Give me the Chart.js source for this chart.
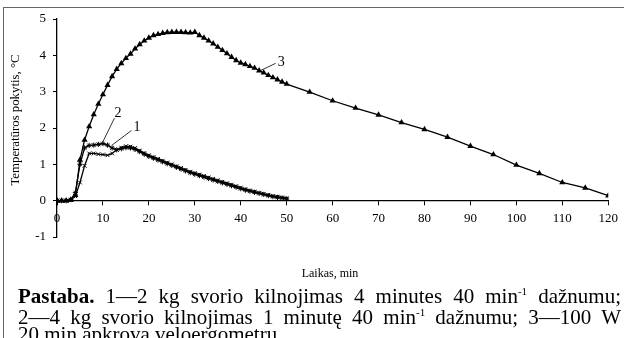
<!DOCTYPE html>
<html>
<head>
<meta charset="utf-8">
<script src="https://cdn.jsdelivr.net/npm/chart.js@4.4.1/dist/chart.umd.min.js"></script>
<style>
  html, body { margin: 0; padding: 0; background: #fff; }
  #wrap { position: relative; width: 624px; height: 338px; overflow: hidden; }
  #chart { position: absolute; left: 0; top: 0; }
  #frameTop { position: absolute; left: 3px; top: 7px; width: 621px; height: 0; border-top: 1px solid #666; }
  #frameLeft { position: absolute; left: 3px; top: 7px; width: 0; height: 331px; border-left: 1px solid #666; }
  #note {
    position: absolute; left: 18px; top: 286px; width: 603px;
    font-family: "Liberation Serif", "DejaVu Serif", serif; font-size: 21px; line-height: 20.5px; color: #000;
  }
  #note div { white-space: nowrap; }
  #note .j { text-align: justify; text-align-last: justify; white-space: normal; }
  #note .last { margin-top: -3px; }
  #note sup { font-size: 11px; line-height: 0; vertical-align: 8px; }
</style>
</head>
<body>
<div id="wrap">
  <canvas id="chart" width="624" height="338"></canvas>
  <div id="frameTop"></div>
  <div id="frameLeft"></div>
  <div id="note">
    <div class="j"><b>Pastaba.</b> 1—2 kg svorio kilnojimas 4 minutes 40 min<sup>-1</sup> dažnumu;</div>
    <div class="j">2—4 kg svorio kilnojimas 1 minutę 40 min<sup>-1</sup> dažnumu; 3—100 W</div>
    <div class="last">20 min apkrova veloergometru.</div>
  </div>
</div>
<script>
// time, min
const minutes1 = [0, 1, 2, 3, 4, 5, 6, 7, 8, 9, 10, 11, 12, 13, 14, 15, 16, 17, 18, 19, 20,
  21, 22, 23, 24, 25, 26, 27, 28, 29, 30, 31, 32, 33, 34, 35, 36, 37, 38, 39, 40,
  41, 42, 43, 44, 45, 46, 47, 48, 49, 50];
const minutes3 = [0, 1, 2, 3, 4, 5, 6, 7, 8, 9, 10, 11, 12, 13, 14, 15, 16, 17, 18, 19, 20,
  21, 22, 23, 24, 25, 26, 27, 28, 29, 30, 31, 32, 33, 34, 35, 36, 37, 38, 39, 40,
  41, 42, 43, 44, 45, 46, 47, 48, 49, 50, 55, 60, 65, 70, 75, 80, 85, 90, 95, 100,
  105, 110, 115, 120];

// temperature change, degC
const temp1 = [0, 0, 0, 0.02, 0.12, 0.5, 0.96, 1.3, 1.3, 1.28, 1.27, 1.25, 1.3, 1.4, 1.46, 1.5, 1.49,
  1.45, 1.38, 1.31, 1.25, 1.2, 1.15, 1.1, 1.05, 1.0, 0.95, 0.9, 0.85, 0.8, 0.76,
  0.72, 0.68, 0.64, 0.6, 0.56, 0.52, 0.48, 0.44, 0.4, 0.36, 0.32, 0.28, 0.25, 0.22,
  0.19, 0.16, 0.13, 0.11, 0.09, 0.07];
const temp2 = [0, 0, 0, 0.03, 0.22, 1.0, 1.45, 1.52, 1.53, 1.55, 1.57, 1.53, 1.45, 1.4, 1.43, 1.46, 1.45,
  1.41, 1.35, 1.28, 1.22, 1.17, 1.12, 1.07, 1.02, 0.97, 0.92, 0.87, 0.82, 0.77, 0.73,
  0.69, 0.65, 0.61, 0.57, 0.53, 0.49, 0.45, 0.41, 0.37, 0.33, 0.29, 0.26, 0.23, 0.2,
  0.17, 0.14, 0.11, 0.09, 0.07, 0.05];
const temp3 = [0, 0, 0, 0.02, 0.15, 1.12, 1.67, 2.04, 2.37, 2.66, 2.92, 3.18, 3.42, 3.62, 3.78, 3.92,
  4.04, 4.18, 4.3, 4.4, 4.48, 4.55, 4.58, 4.61, 4.63, 4.64, 4.64, 4.64, 4.63, 4.62, 4.64,
  4.55, 4.48, 4.4, 4.32, 4.23, 4.14, 4.05, 3.95, 3.86, 3.79, 3.75, 3.7, 3.65, 3.58,
  3.52, 3.45, 3.39, 3.33, 3.27, 3.21, 2.99, 2.75, 2.55, 2.36, 2.15, 1.96, 1.75, 1.5,
  1.27, 0.98, 0.75, 0.5, 0.35, 0.14];

const xTicks = [0, 10, 20, 30, 40, 50, 60, 70, 80, 90, 100, 110, 120];
const yTicks = [-1, 0, 1, 2, 3, 4, 5];

// curve labels: [text, label x, label y, line from x, y, line to x, y] in data units
const curveLabels = [
  ["1", 17.4, 2.02, 16.2, 1.93, 11.9, 1.52],
  ["2", 13.3, 2.4, 12.5, 2.27, 9.9, 1.6],
  ["3", 48.8, 3.8, 47.6, 3.78, 44.3, 3.58],
];

const serif = "'Liberation Serif', 'DejaVu Serif', serif";

const toPoints = (xs, ys) => xs.map((x, i) => ({ x: x, y: ys[i] }));

const extrasPlugin = {
  id: "extras",
  afterDraw(chart) {
    const ctx = chart.ctx;
    const xs = chart.scales.x;
    const ys = chart.scales.y;
    ctx.save();
    ctx.fillStyle = "#000";
    ctx.strokeStyle = "#000";
    ctx.lineWidth = 0.8;
    ctx.font = "14px " + serif;
    ctx.textAlign = "center";
    ctx.textBaseline = "middle";
    curveLabels.forEach(([t, lx, ly, x1, y1, x2, y2]) => {
      ctx.fillText(t, xs.getPixelForValue(lx), ys.getPixelForValue(ly));
      ctx.beginPath();
      ctx.moveTo(xs.getPixelForValue(x1), ys.getPixelForValue(y1));
      ctx.lineTo(xs.getPixelForValue(x2), ys.getPixelForValue(y2));
      ctx.stroke();
    });

    // axis titles
    ctx.font = "12px " + serif;
    ctx.fillText("Laikas, min", 330, 274);
    ctx.font = "12.8px " + serif;
    ctx.translate(16, 120);
    ctx.rotate(-Math.PI / 2);
    ctx.fillText("Temperatūros pokytis, °C", 0, 0);
    ctx.restore();
  },
};

const canvas = document.getElementById("chart");
new Chart(canvas.getContext("2d"), {
  type: "line",
  data: {
    datasets: [
      {
        label: "1",
        data: toPoints(minutes1, temp1),
        borderColor: "#000",
        backgroundColor: "#000",
        borderWidth: 1.3,
        pointStyle: "crossRot",
        pointRadius: 2.6,
        pointBorderWidth: 1,
        tension: 0,
      },
      {
        label: "2",
        data: toPoints(minutes1, temp2),
        borderColor: "#000",
        backgroundColor: "#000",
        borderWidth: 1.3,
        pointStyle: "star",
        pointRadius: 2.6,
        pointBorderWidth: 1,
        tension: 0,
      },
      {
        label: "3",
        data: toPoints(minutes3, temp3),
        borderColor: "#000",
        backgroundColor: "#000",
        borderWidth: 1.3,
        pointStyle: "triangle",
        pointRadius: 3.6,
        pointBorderWidth: 0,
        tension: 0,
      },
    ],
  },
  options: {
    responsive: false,
    animation: false,
    layout: { padding: { left: 0, right: 12, top: 19, bottom: 101 } },
    plugins: { legend: { display: false }, tooltip: { enabled: false } },
    scales: {
      x: {
        type: "linear",
        position: { y: 0 },
        min: 0,
        max: 120,
        afterBuildTicks: (s) => { s.ticks = xTicks.map((v) => ({ value: v })); },
        grid: { drawOnChartArea: false, drawTicks: true, tickLength: 4, color: "#000", lineWidth: 1 },
        border: { display: true, color: "#000", width: 1.3 },
        ticks: { color: "#000", font: { family: serif, size: 13 }, padding: 6, maxRotation: 0 },
      },
      y: {
        type: "linear",
        min: -1,
        max: 5,
        afterBuildTicks: (s) => { s.ticks = yTicks.map((v) => ({ value: v })); },
        afterFit: (s) => { s.width = 57; },
        grid: { drawOnChartArea: false, drawTicks: true, tickLength: 4, color: "#000", lineWidth: 1 },
        border: { display: true, color: "#000", width: 1.3 },
        ticks: { color: "#000", font: { family: serif, size: 13 }, padding: 7 },
      },
    },
  },
  plugins: [extrasPlugin],
});
</script>
</body>
</html>
